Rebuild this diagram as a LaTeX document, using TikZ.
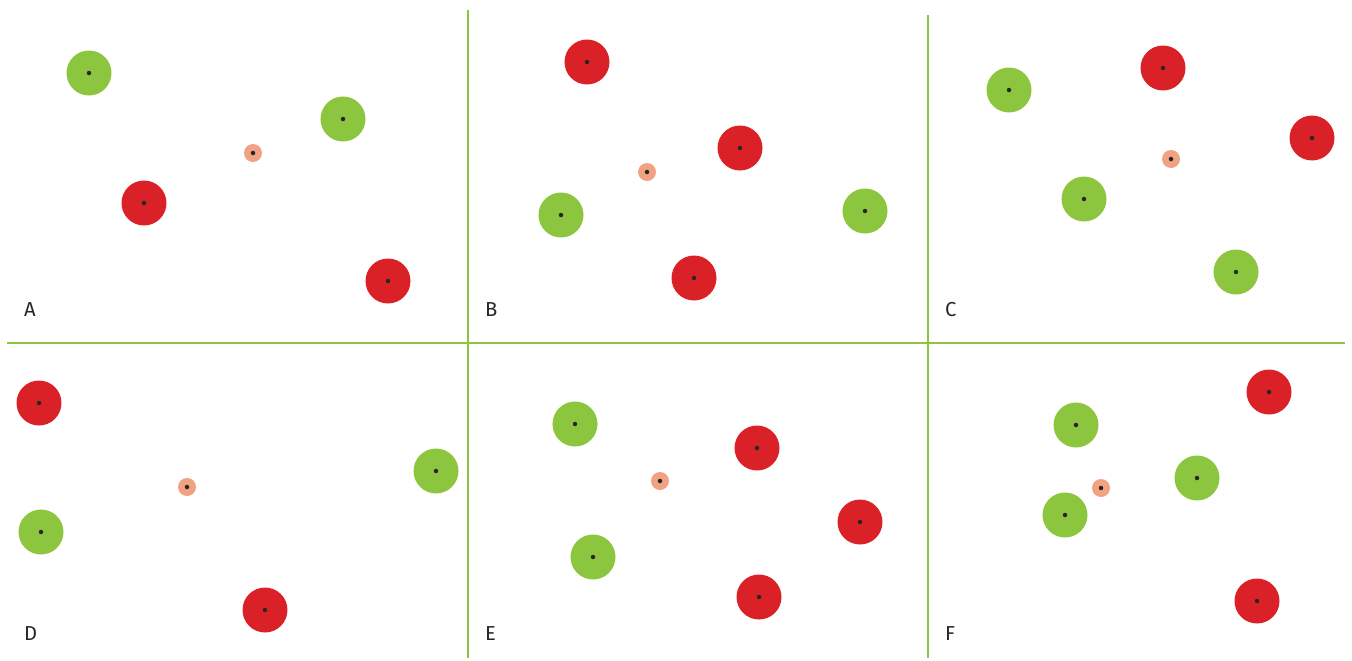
\documentclass[tikz,border=0pt]{standalone}
\usepackage{fontspec}
\setmainfont{Fira Sans}
\usepackage{tikz}
\definecolor{goodgreen}{HTML}{8CC63F}
\definecolor{badred}{HTML}{DA2128}
\definecolor{probe}{HTML}{F0A283}

\begin{document}
\begin{tikzpicture}[
    x=0.02cm, y=-0.02cm,
    green_pt/.style={circle, fill=goodgreen, inner sep=0pt, minimum size=0.9cm},
    red_pt/.style={circle, fill=badred, inner sep=0pt, minimum size=0.9cm},
    query_pt/.style={circle, fill=probe, inner sep=0pt, minimum size=0.36cm},
    divider/.style={goodgreen, line width=1.2pt},
    panel/.style={anchor=base west, font=\fontsize{11.5}{14}\selectfont, text=black!85}
]
    \useasboundingbox (0,0) rectangle (1352,660);

    % Panel dividers
    \coordinate (v1top) at (468,10);
    \coordinate (v1bot) at (468,658);
    \coordinate (v2top) at (928,15);
    \coordinate (v2bot) at (928,658);
    \coordinate (hleft) at (7,343);
    \coordinate (hright) at (1345,343);
    \draw[divider] (v1top) -- (v1bot);
    \draw[divider] (v2top) -- (v2bot);
    \draw[divider] (hleft) -- (hright);

    % --- Panel A ---
    \node[green_pt] (a1) at (89,73) {};
    \node[green_pt] (a2) at (343,119) {};
    \node[red_pt] (a3) at (144,203) {};
    \node[red_pt] (a4) at (388,281) {};
    \node[query_pt] (aq) at (253,153) {};
    \node[panel] (labA) at (18,316) {A};

    % --- Panel B ---
    \node[red_pt] (b1) at (587,62) {};
    \node[red_pt] (b2) at (740,148) {};
    \node[green_pt] (b3) at (561,215) {};
    \node[green_pt] (b4) at (865,211) {};
    \node[red_pt] (b5) at (694,278) {};
    \node[query_pt] (bq) at (647,172) {};
    \node[panel] (labB) at (479,316) {B};

    % --- Panel C ---
    \node[green_pt] (c1) at (1009,90) {};
    \node[red_pt] (c2) at (1163,68) {};
    \node[red_pt] (c3) at (1312,138) {};
    \node[green_pt] (c4) at (1084,199) {};
    \node[green_pt] (c5) at (1236,272) {};
    \node[query_pt] (cq) at (1171,159) {};
    \node[panel] (labC) at (939,316) {C};

    % --- Panel D ---
    \node[red_pt] (d1) at (39,403) {};
    \node[green_pt] (d2) at (41,532) {};
    \node[green_pt] (d3) at (436,471) {};
    \node[red_pt] (d4) at (265,610) {};
    \node[query_pt] (dq) at (187,487) {};
    \node[panel] (labD) at (18,640) {D};

    % --- Panel E ---
    \node[green_pt] (e1) at (575,424) {};
    \node[red_pt] (e2) at (757,448) {};
    \node[red_pt] (e3) at (860,522) {};
    \node[green_pt] (e4) at (593,557) {};
    \node[red_pt] (e5) at (759,597) {};
    \node[query_pt] (eq) at (660,481) {};
    \node[panel] (labE) at (479,640) {E};

    % --- Panel F ---
    \node[green_pt] (f1) at (1076,425) {};
    \node[red_pt] (f2) at (1269,392) {};
    \node[green_pt] (f3) at (1197,478) {};
    \node[green_pt] (f4) at (1065,515) {};
    \node[red_pt] (f5) at (1257,601) {};
    \node[query_pt] (fq) at (1101,488) {};
    \node[panel] (labF) at (939,640) {F};

    % centre dots
    \foreach \p in {a1,a2,a3,a4,aq,b1,b2,b3,b4,b5,bq,c1,c2,c3,c4,c5,cq,
                    d1,d2,d3,d4,dq,e1,e2,e3,e4,e5,eq,f1,f2,f3,f4,f5,fq}
        \fill[black!85] (\p.center) circle (0.045cm);

\end{tikzpicture}
\end{document}
